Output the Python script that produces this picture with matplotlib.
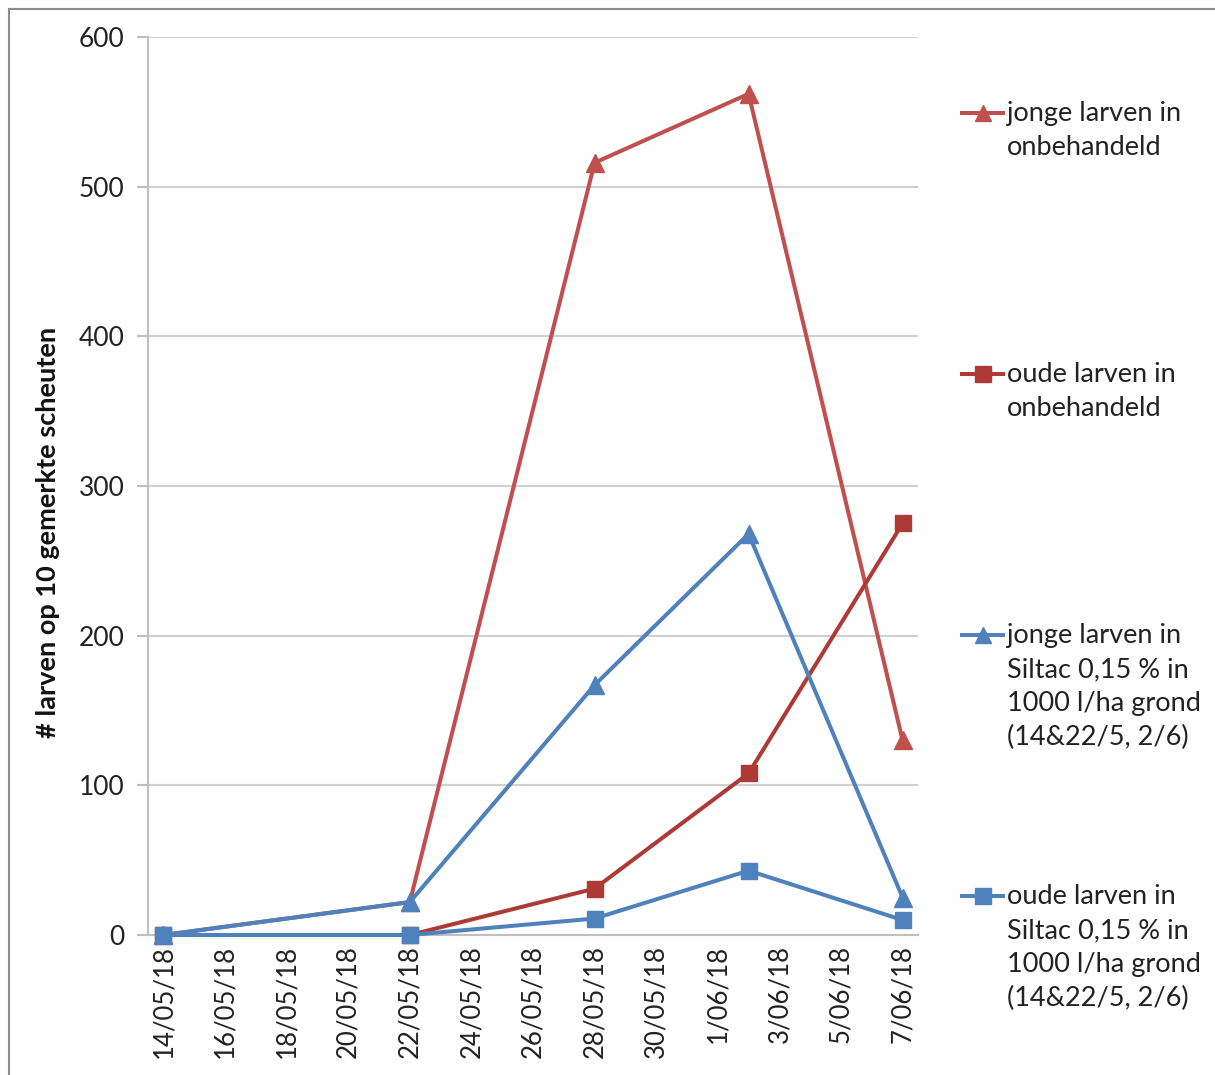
import matplotlib
matplotlib.use("Agg")
import matplotlib.pyplot as plt
from matplotlib.lines import Line2D
import numpy as np
import pandas as pd

plt.rcParams['font.family'] = ['Lato', 'DejaVu Sans']

# data
dates = pd.to_datetime(["2018-05-14", "2018-05-22", "2018-05-28", "2018-06-02", "2018-06-07"])
jonge_onbeh = [0, 22, 516, 562, 130]
oude_onbeh = [0, 0, 31, 108, 275]
jonge_siltac = [0, 22, 167, 268, 25]
oude_siltac = [0, 0, 11, 43, 10]

labels = [
    "jonge larven in\nonbehandeld",
    "oude larven in\nonbehandeld",
    "jonge larven in\nSiltac 0,15 % in\n1000 l/ha grond\n(14&22/5, 2/6)",
    "oude larven in\nSiltac 0,15 % in\n1000 l/ha grond\n(14&22/5, 2/6)",
]
ylabel = "# larven op 10 gemerkte scheuten"

start = dates[0]
days = (dates - start).days.values
tick_days = np.arange(0, 25, 2)
tick_dates = [start + pd.Timedelta(days=int(d)) for d in tick_days]
tick_labels = [f"{d.day}/{d.month:02d}/{d.year % 100}" for d in tick_dates]

red = "#C0504D"
dred = "#AE3A36"
blue = "#4F81BD"

fig = plt.figure(figsize=(12.15, 10.75), dpi=100)
ax = fig.add_axes([148 / 1215, 1 - 935 / 1075, 770 / 1215, 898 / 1075])

lines = {}
# red first so blue sits on top at the shared zero points
for vals, col, mk, key in [
    (jonge_onbeh, red, "^", 0),
    (oude_onbeh, dred, "s", 1),
    (jonge_siltac, blue, "^", 2),
    (oude_siltac, blue, "s", 3),
]:
    ms = 13 if mk == "^" else 12
    (ln,) = ax.plot(days, vals, color=col, marker=mk, lw=2.9, ms=ms,
                    solid_joinstyle="round", clip_on=False, zorder=3)
    lines[key] = ln

ax.set_xlim(-0.5, 24.5)
ax.set_ylim(0, 600)
ax.set_yticks(np.arange(0, 601, 100))
ax.set_xticks(tick_days)
ax.set_xticklabels(tick_labels, rotation=90)
ax.tick_params(axis="x", length=0, pad=7, labelsize=18.5, labelcolor="#222222")
ax.tick_params(axis="y", length=8, width=1.5, color="#BFBFBF", pad=9,
               labelsize=19, labelcolor="#222222")
ax.grid(axis="y", color="#D0D0D0", lw=1.5)
ax.set_axisbelow(True)
for s in ["top", "right"]:
    ax.spines[s].set_visible(False)
for s in ["left", "bottom"]:
    ax.spines[s].set_color("#BFBFBF")
    ax.spines[s].set_linewidth(1.5)

fig.text(48 / 1215, 1 - 532 / 1075, ylabel, rotation=90, ha="center",
         va="center", fontsize=19.5, fontweight="bold", color="#111111")

# legend, handle aligned to the first line of each label
leg_y = [113, 374, 635, 896]
for i, y in enumerate(leg_y):
    ln = lines[i]
    yf = 1 - y / 1075
    fig.add_artist(Line2D([962 / 1215, 1003 / 1215], [yf, yf], color=ln.get_color(),
                          lw=2.9, transform=fig.transFigure))
    fig.add_artist(Line2D([982.5 / 1215], [yf], color=ln.get_color(), marker=ln.get_marker(),
                          ms=ln.get_markersize() - 1, transform=fig.transFigure))
    fig.text(1007 / 1215, 1 - (y - 12) / 1075, labels[i], ha="left", va="top",
             fontsize=19.5, color="#222222", linespacing=1.45)

# screenshot border (top and left)
fig.add_artist(Line2D([8.5 / 1215, 1], [1 - 8.5 / 1075] * 2, color="#8C8C8C", lw=1.5,
                      transform=fig.transFigure))
fig.add_artist(Line2D([8.5 / 1215] * 2, [0, 1 - 8.5 / 1075], color="#8C8C8C", lw=1.5,
                      transform=fig.transFigure))

fig.savefig("out.png", dpi=100, facecolor="white")
